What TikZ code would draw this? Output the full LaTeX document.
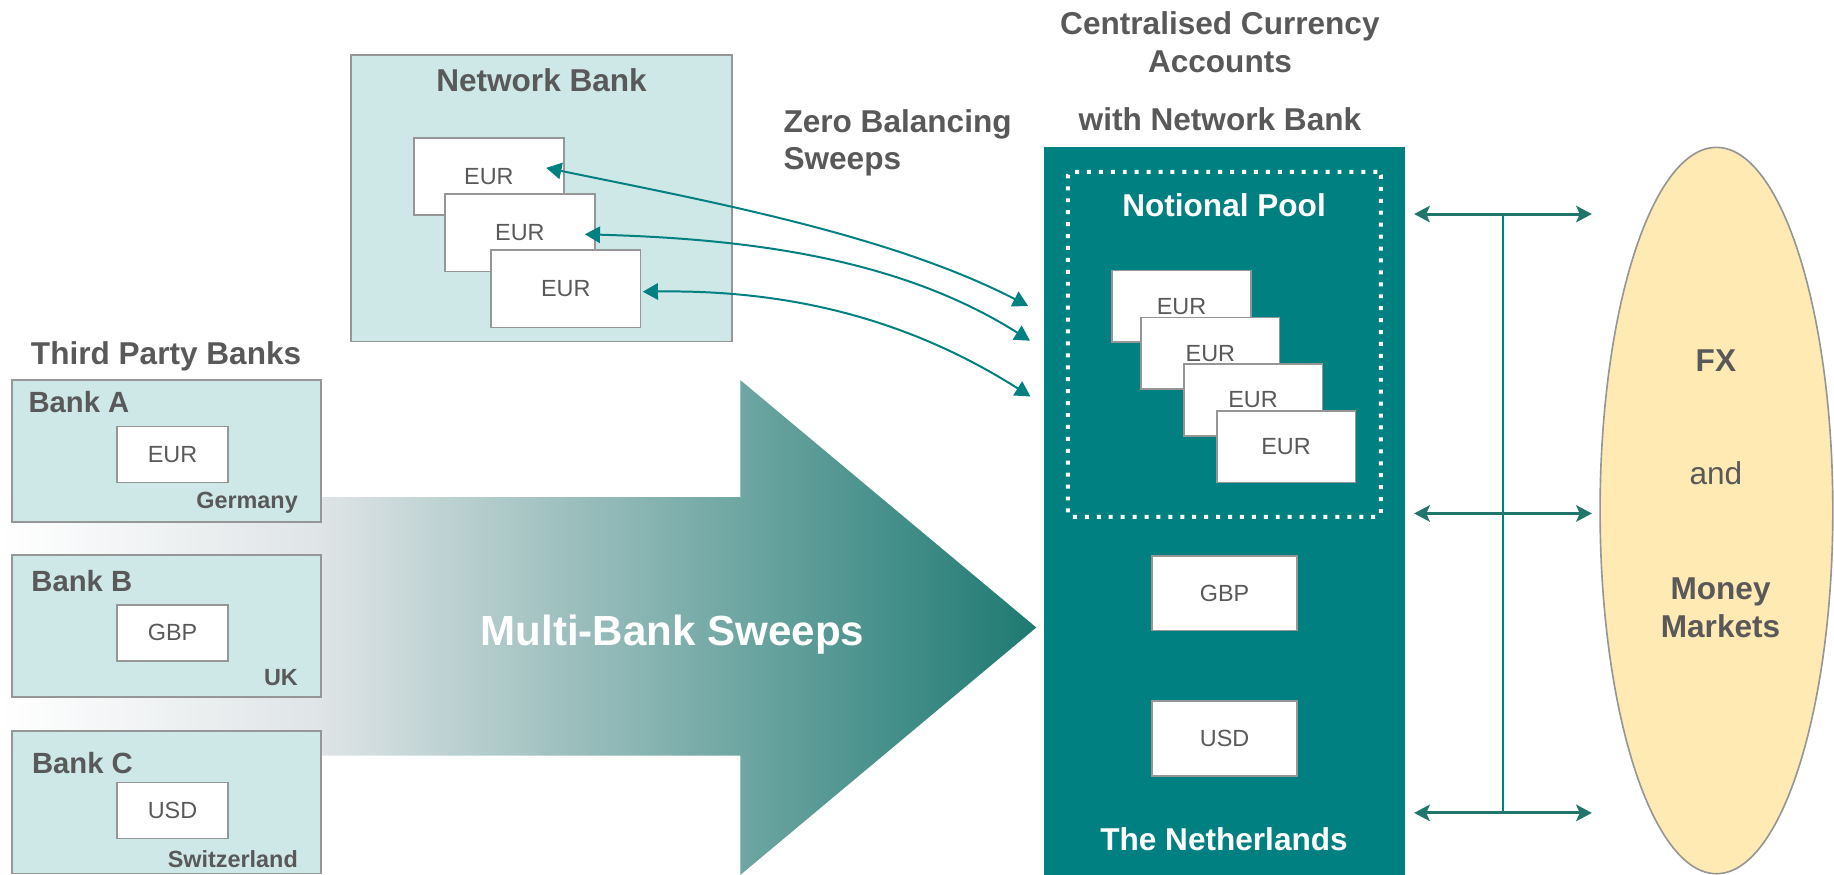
\documentclass[tikz,border=0pt]{standalone}
\usepackage{fontspec}
\setmainfont{Liberation Sans}
\usetikzlibrary{arrows.meta,shapes.geometric}
\definecolor{lteal}{RGB}{205,232,230}
\definecolor{bordergray}{RGB}{150,150,150}
\definecolor{txtgray}{RGB}{89,89,89}
\definecolor{tealzero}{RGB}{0,128,128}
\definecolor{darkteal}{RGB}{33,118,108}
\definecolor{paleyellow}{RGB}{255,234,179}
\definecolor{mbgray}{RGB}{223,228,230}
\definecolor{mbend}{RGB}{30,122,114}
\pgfdeclarehorizontalshading{mbshade}{100bp}{color(0bp)=(white); color(25bp)=(white); color(40.5bp)=(mbgray); color(75bp)=(mbend); color(100bp)=(mbend)}
\begin{document}
\begin{tikzpicture}[x=0.5pt,y=-0.5pt,
  acct/.style={draw=bordergray,line width=0.7pt,fill=white,inner sep=0pt,text=txtgray,font=\fontsize{10}{12}\selectfont},
  bankbox/.style={draw=bordergray,line width=0.8pt,fill=lteal,inner sep=0pt,minimum width=132.25pt,minimum height=60.75pt},
  head/.style={text=txtgray,font=\bfseries\fontsize{13.5}{16}\selectfont,inner sep=0pt},
  banklbl/.style={text=txtgray,font=\bfseries\fontsize{12.5}{14}\selectfont,inner sep=0pt,anchor=base west},
  ctry/.style={text=txtgray,font=\bfseries\fontsize{10}{12}\selectfont,inner sep=0pt,anchor=base east},
  zba/.style={draw=tealzero,line width=0.85pt,arrows={Triangle[length=6.5pt,width=7pt]-Triangle[length=6.5pt,width=7pt]}},
  fxa/.style={draw=darkteal,line width=1.3pt,arrows={Stealth[length=6.7pt,width=7pt,inset=1.5pt]-Stealth[length=6.7pt,width=7pt,inset=1.5pt]}},
]
\useasboundingbox (0,0) rectangle (1568,748);

% Multi-bank sweeps arrow
\shade[shading=mbshade] (0,425) -- (633,425) -- (633,325) -- (886,536.5) -- (633,748) -- (633,646) -- (0,646) -- cycle;
\node[text=white,font=\bfseries\fontsize{18}{20}\selectfont,inner sep=0pt,anchor=base] (mbs) at (575,552) {Multi-Bank Sweeps};

% Third party banks
\node[head,anchor=base] (tpb) at (142,311.5) {Third Party Banks};
\node[bankbox] (bankA) at (142.25,385.75) {};
\node[bankbox] (bankB) at (142.25,535.25) {};
\node[bankbox] (bankC) at (142.25,686) {};
\node[banklbl] (lblA) at (24,353) {Bank A};
\node[banklbl] (lblB) at (26.5,506) {Bank B};
\node[banklbl] (lblC) at (27,661) {Bank C};
\node[acct,minimum width=47.5pt,minimum height=24pt] (eurA) at (147.5,388.5) {EUR};
\node[acct,minimum width=47.5pt,minimum height=24pt] (gbpB) at (147.5,541) {GBP};
\node[acct,minimum width=47.5pt,minimum height=24pt] (usdC) at (147.5,693) {USD};
\node[ctry] (ctA) at (255,435) {Germany};
\node[ctry] (ctB) at (255,586) {UK};
\node[ctry] (ctC) at (255,742) {Switzerland};

% Network bank
\node[draw=bordergray,line width=0.8pt,fill=lteal,inner sep=0pt,minimum width=163pt,minimum height=122.5pt] (nb) at (463,169.5) {};
\node[head,anchor=base] (nbl) at (463,78) {Network Bank};
\node[acct,minimum width=64pt,minimum height=33pt] (nb1) at (418,151) {EUR};
\node[acct,minimum width=64pt,minimum height=33pt] (nb2) at (444.5,199) {EUR};
\node[acct,minimum width=64pt,minimum height=33pt] (nb3) at (483.75,247) {EUR};

\node[head,align=left,anchor=west] (zbs) at (669.5,122) {Zero Balancing\\Sweeps};

% Centralised accounts
\node[head,align=center] (cca) at (1043,36) {Centralised Currency\\Accounts};
\node[head,anchor=base] (wnb) at (1043,111.5) {with Network Bank};
\node[fill=tealzero,inner sep=0pt,minimum width=154.2pt,minimum height=311.2pt] (nl) at (1046.8,436.9) {};
\node[draw=white,line width=1.7pt,dash pattern=on 1.7pt off 3.4pt,rounded corners=1.5pt,inner sep=0pt,minimum width=133.75pt,minimum height=147.5pt] (pool) at (1046.75,294.5) {};
\node[text=white,font=\bfseries\fontsize{13.5}{16}\selectfont,inner sep=0pt,anchor=base] (pooll) at (1046.5,185) {Notional Pool};
\node[acct,minimum width=59.25pt,minimum height=30.6pt] (p1) at (1010.2,262) {EUR};
\node[acct,minimum width=59.25pt,minimum height=30.6pt] (p2) at (1034.8,302.1) {EUR};
\node[acct,minimum width=59.25pt,minimum height=30.6pt] (p3) at (1071.3,341.9) {EUR};
\node[acct,minimum width=59.25pt,minimum height=30.6pt] (p4) at (1099.5,381.8) {EUR};
\node[acct,minimum width=62pt,minimum height=31.9pt] (gbpN) at (1047,507.3) {GBP};
\node[acct,minimum width=62pt,minimum height=31.9pt] (usdN) at (1047,631.3) {USD};
\node[text=white,font=\bfseries\fontsize{13.5}{16}\selectfont,inner sep=0pt,anchor=base] (nll) at (1046.5,727) {The Netherlands};

% Zero balancing sweep arrows
\coordinate (z1s) at (467,143.5);
\coordinate (z1e) at (879,261.6);
\coordinate (z2s) at (500,200.3);
\coordinate (z2e) at (880.6,291.3);
\coordinate (z3s) at (549.5,249.4);
\coordinate (z3e) at (881,339);
\draw[zba] (z1s) .. controls (600,171) and (760,200) .. (z1e);
\draw[zba] (z2s) .. controls (630,204) and (765,218) .. (z2e);
\draw[zba] (z3s) .. controls (650,248) and (760,262) .. (z3e);

% FX and money markets
\node[ellipse,draw=bordergray,line width=0.7pt,fill=paleyellow,inner sep=0pt,minimum width=99.5pt,minimum height=310.5pt] (mkt) at (1467.5,436.5) {};
\node[head,anchor=base] (fx) at (1467,317.5) {FX};
\node[text=txtgray,font=\fontsize{13.5}{16}\selectfont,inner sep=0pt,anchor=base] (and) at (1467,414) {and};
\node[head,align=center] (mm) at (1471,519.5) {Money\\Markets};

\coordinate (r1l) at (1209,183);
\coordinate (r1r) at (1361,183);
\coordinate (r2l) at (1209,439);
\coordinate (r2r) at (1361,439);
\coordinate (r3l) at (1209,695);
\coordinate (r3r) at (1361,695);
\coordinate (j1) at (1285,183);
\coordinate (j3) at (1285,695);
\draw[draw=tealzero,line width=0.9pt] (j1) -- (j3);
\draw[fxa] (r1l) -- (r1r);
\draw[fxa] (r2l) -- (r2r);
\draw[fxa] (r3l) -- (r3r);
\end{tikzpicture}
\end{document}
